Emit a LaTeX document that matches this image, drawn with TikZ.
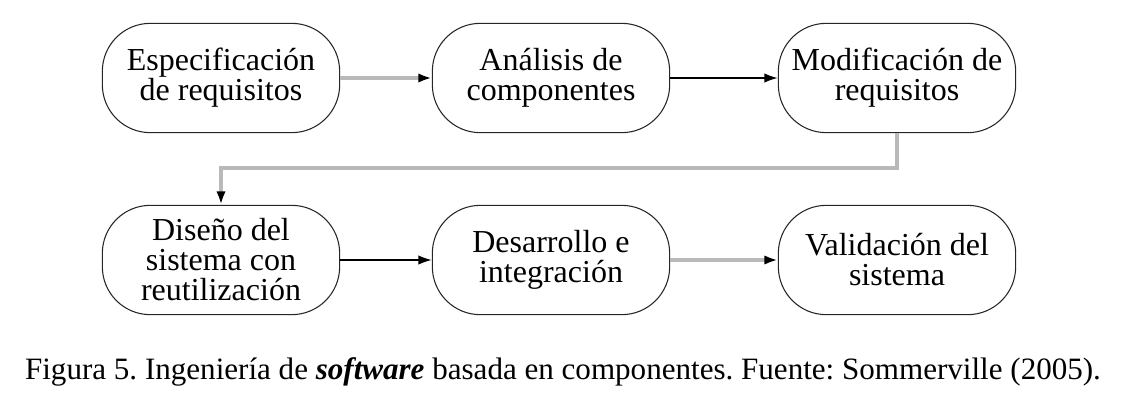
\documentclass[tikz,border=0pt]{standalone}
\usepackage{fontspec}
\setmainfont{Liberation Serif}
\usetikzlibrary{arrows.meta}
\begin{document}
\frenchspacing
\begin{tikzpicture}[x=0.75pt,y=-0.75pt,
    etapa/.style={draw=black!85,line width=0.8pt,rounded corners=36pt,
      minimum width=178pt,minimum height=82pt,inner sep=0pt,align=center,
      font=\fontsize{24}{22.5}\selectfont},
    flecha/.style={draw=black,line width=1.2pt,-{Latex[length=10pt,width=7pt,color=black]}},
    flechagris/.style={flecha,draw=gray!55,line width=3pt}]
    \useasboundingbox (0,0) rectangle (1130,404);

    % fila superior
    \node[etapa] (espec) at (221,78) {Especificación\\de requisitos};
    \node[etapa] (analisis) at (551,78) {Análisis de\\componentes};
    \node[etapa] (modif) at (897,78) {Modificación de\\requisitos};

    % fila inferior
    \node[etapa] (diseno) at (221,260) {Diseño del\\sistema con\\reutilización};
    \node[etapa] (desarrollo) at (551,260) {Desarrollo e\\integración};
    \node[etapa] (valid) at (897,260) {Validación del\\sistema};

    \draw[flechagris] (espec) -- (analisis);
    \draw[flecha] (analisis) -- (modif);
    \draw[flechagris] (modif.south) -- ++(0,35) -| (diseno.north);
    \draw[flecha] (diseno) -- (desarrollo);
    \draw[flechagris] (desarrollo) -- (valid);

    \node[font=\fontsize{23.3}{26}\selectfont] (pie) at (563,372)
      {Figura 5. Ingeniería de \textbf{\textit{software}} basada en componentes. Fuente: Sommerville (2005).};
\end{tikzpicture}
\end{document}
